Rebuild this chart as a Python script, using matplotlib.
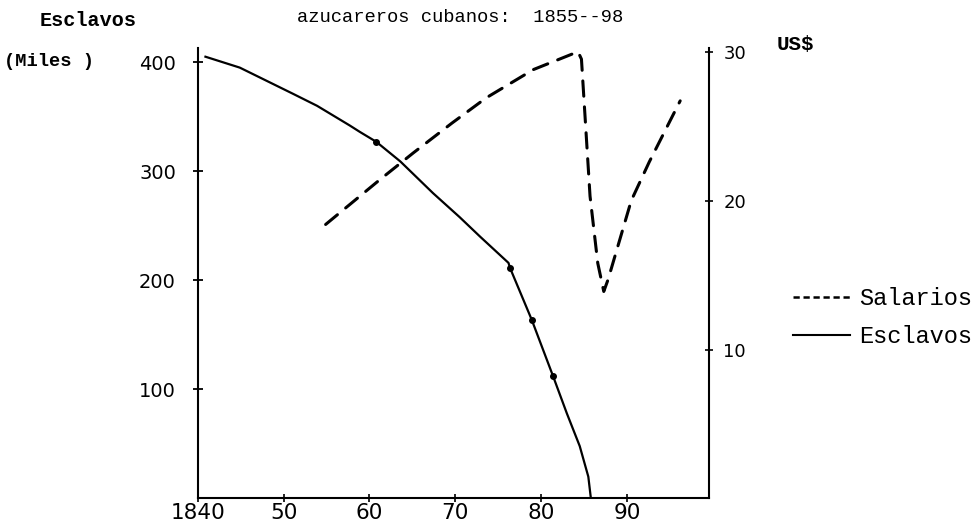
import matplotlib.pyplot as plt
from matplotlib.lines import Line2D

# Esclavos (miles) - eje izquierdo
slave_years = [1840.9, 1844.9, 1848.0, 1851.1, 1853.9, 1855.8, 1857.7, 1858.9,
               1860.8, 1863.6, 1867.4, 1870.5, 1872.9, 1876.2, 1876.4, 1878.9,
               1881.4, 1883.0, 1884.5, 1885.5, 1885.8]
slave_values = [405, 395, 383, 371, 360, 351, 342, 336,
                327, 309, 280, 258, 240, 216, 211, 164,
                112, 78, 48, 20, 0]
slave_marked = [8, 14, 15, 16]  # puntos marcados sobre la curva

# Salarios (US$) - eje derecho
wage_years = [1854.9, 1861.2, 1865.1, 1869.6, 1873.6, 1879.1, 1884.3, 1884.7,
              1885.7, 1886.6, 1887.3, 1887.8, 1890.5, 1892.6, 1896.2]
wage_values = [18.4, 21.4, 23.2, 25.2, 26.9, 28.8, 30.0, 29.5,
               20.3, 15.8, 13.9, 14.7, 20.0, 22.6, 26.7]

x_ticks = [1840, 1850, 1860, 1870, 1880, 1890]
x_labels = ['1840', '50', '60', '70', '80', '90']
left_ticks = [100, 200, 300, 400]
right_ticks = [10, 20, 30]

mono = 'Liberation Mono'

fig = plt.figure(figsize=(9.74, 5.25), dpi=100)
ax = fig.add_axes([0.203, 0.0505, 0.5253, 0.8581])
ax2 = ax.twinx()

ax.plot(slave_years, slave_values, color='black', lw=1.6)
ax.plot([slave_years[i] for i in slave_marked],
        [slave_values[i] for i in slave_marked],
        'o', color='black', ms=4)
ax2.plot(wage_years, wage_values, color='black', lw=2.2,
         ls=(0, (5, 3.5)), dash_capstyle='round')

ax.set_xlim(1840, 1899.6)
ax.set_ylim(0, 413)
ax2.set_ylim(0, 30.25)

ax.set_xticks(x_ticks)
ax.set_xticklabels(x_labels)
ax.set_yticks(left_ticks)
ax2.set_yticks(right_ticks)

for s in ['top', 'right']:
    ax.spines[s].set_visible(False)
for s in ['top', 'left', 'bottom']:
    ax2.spines[s].set_visible(False)
ax.spines['left'].set_linewidth(1.5)
ax.spines['bottom'].set_linewidth(1.5)
ax2.spines['right'].set_linewidth(1.5)

ax.tick_params(axis='y', direction='inout', length=6.5, width=1.3, pad=12.4, labelsize=14)
ax.tick_params(axis='x', direction='inout', length=6, width=1.2, pad=0.5, labelsize=15.5)
ax2.tick_params(axis='y', direction='inout', length=6, width=1.2, pad=7, labelsize=13)

# textos mecanografiados
fig.text(40 / 974, 1 - 20 / 525, 'Esclavos', family=mono, fontsize=14.5, va='center',
         ha='left', fontweight='bold')
fig.text(4 / 974, 1 - 62 / 525, '(Miles )', family=mono, fontsize=13.5, va='center',
         ha='left', fontweight='bold')
fig.text(297 / 974, 1 - 18 / 525, 'azucareros cubanos:  1855--98', family=mono, fontsize=13.5,
         va='center', ha='left')
fig.text(777 / 974, 1 - 45 / 525, 'US$', family=mono, fontsize=15, va='center', ha='left',
         fontweight='bold')

handles = [Line2D([], [], color='black', lw=1.8, ls=(0, (2.5, 1.5))),
           Line2D([], [], color='black', lw=1.5)]
fig.legend(handles, ['Salarios', 'Esclavos'], loc='center left',
           bbox_to_anchor=(793 / 974, 1 - 317.5 / 525), frameon=False,
           prop={'family': mono, 'size': 17}, handlelength=2.4,
           handletextpad=0.4, labelspacing=0.62, borderpad=0, borderaxespad=0)

fig.savefig('out.png', dpi=100)
